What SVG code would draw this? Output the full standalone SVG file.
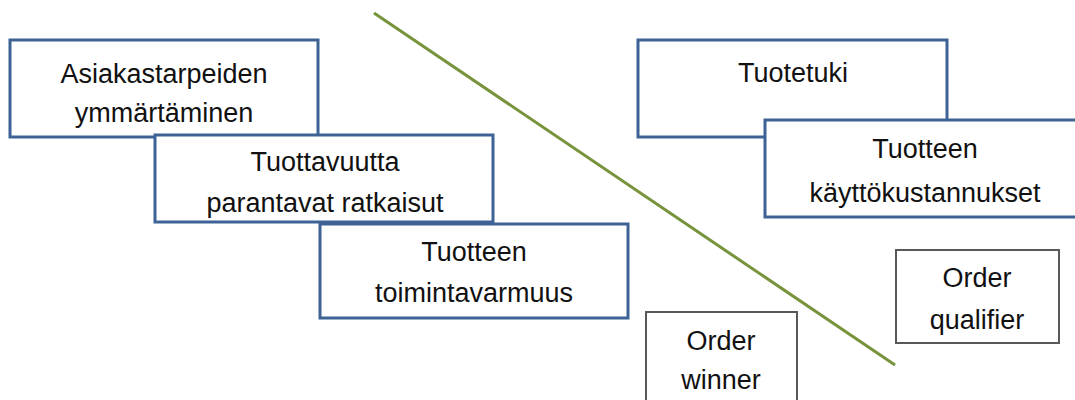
<svg xmlns="http://www.w3.org/2000/svg" width="1075" height="400" viewBox="0 0 1075 400">
<style>
.blue{fill:#fff;stroke:#3d6396;stroke-width:3}
.gray{fill:#fff;stroke:#595959;stroke-width:2}
text{font-family:"Liberation Sans",Arial,sans-serif;font-size:27px;fill:#111;text-anchor:middle}
</style>
<rect width="1075" height="400" fill="#fff"/>
<g id="connectors">
<line x1="374" y1="13" x2="895" y2="365" stroke="#77933c" stroke-width="3"/>
</g>
<g id="n1"><rect class="blue" x="10" y="40" width="308" height="97"/><text x="164" y="83">Asiakastarpeiden</text><text x="164" y="122">ymmärtäminen</text></g>
<g id="n2"><rect class="blue" x="155" y="135" width="338" height="87"/><text x="325" y="171">Tuottavuutta</text><text x="325" y="212">parantavat ratkaisut</text></g>
<g id="n3"><rect class="blue" x="320" y="224" width="308" height="94"/><text x="474" y="261">Tuotteen</text><text x="474" y="302">toimintavarmuus</text></g>
<g id="n4"><rect class="blue" x="638" y="40" width="309" height="97"/><text x="793" y="82">Tuotetuki</text></g>
<g id="n5"><rect class="blue" x="765" y="120" width="320" height="97"/><text x="925" y="158">Tuotteen</text><text x="925" y="202">käyttökustannukset</text></g>
<g id="n6"><rect class="gray" x="896" y="250" width="163" height="93"/><text x="977" y="287">Order</text><text x="977" y="329">qualifier</text></g>
<g id="n7"><rect class="gray" x="646" y="312" width="151" height="100"/><text x="721" y="350">Order</text><text x="721" y="389">winner</text></g>
</svg>
